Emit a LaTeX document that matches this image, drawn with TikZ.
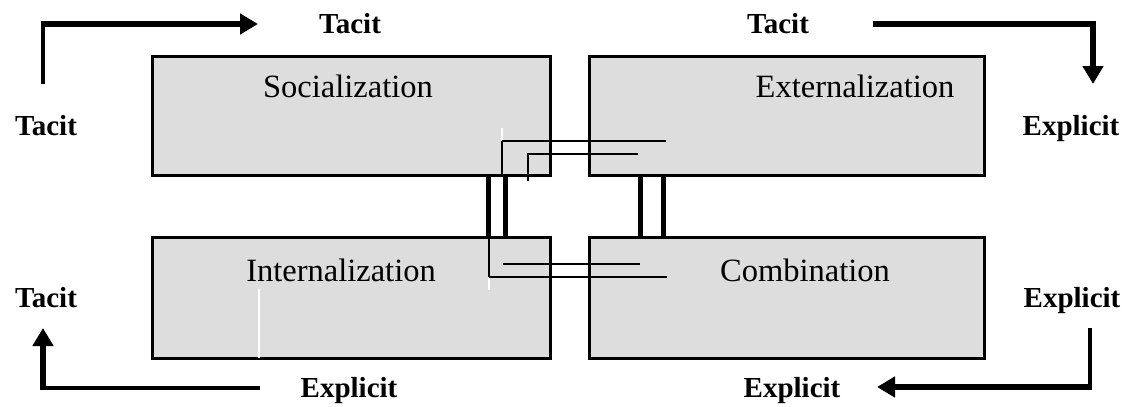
\documentclass[tikz,border=0pt]{standalone}
\usepackage{fontspec}
\setmainfont{Liberation Serif}
\usetikzlibrary{arrows.meta}
\definecolor{boxgray}{HTML}{DDDDDD}
\tikzset{
  mbox/.style={draw=black, fill=boxgray, line width=3pt, rectangle, inner sep=0pt},
  boxtext/.style={anchor=base, inner sep=0pt, font=\fontsize{32.5}{36}\selectfont},
  sidelabel/.style={anchor=base, inner sep=0pt, font=\fontsize{29}{32}\selectfont\bfseries},
  flowhead/.style={line width=5.8pt, -{Triangle[length=18pt,width=20pt]}},
  flowtail/.style={line width=3.3pt},
  link/.style={line width=2.6pt},
  pillar/.style={line width=5pt},
  flaw/.style={draw=white, line width=1.3pt}
}
\begin{document}
\begin{tikzpicture}[x=1pt,y=-1pt]
\useasboundingbox (0,0) rectangle (1130,407);
\fill[white] (0,0) rectangle (1130,407);
% boxes
\node[mbox, minimum width=398pt, minimum height=119pt] (soc) at (351.5,116) {};
\node[mbox, minimum width=395pt, minimum height=119pt] (ext) at (787,116) {};
\node[mbox, minimum width=398pt, minimum height=121pt] (int) at (351.5,298) {};
\node[mbox, minimum width=395pt, minimum height=121pt] (com) at (787,298) {};
% white flaws
\draw[flaw] (502,128) -- (502,141);
\draw[flaw] (489,277) -- (489,290);
\draw[flaw] (259,289) -- (259,358);
% box texts
\node[boxtext] (tsoc) at (348,97) {Socialization};
\node[boxtext] (text) at (855,97) {Externalization};
\node[boxtext] (tint) at (341,281) {Internalization};
\node[boxtext] (tcom) at (805,281) {Combination};
% side labels
\node[sidelabel] (ltl) at (350,33) {Tacit};
\node[sidelabel] (ltr) at (778,33) {Tacit};
\node[sidelabel] (lml) at (46,135) {Tacit};
\node[sidelabel] (lmr) at (1071,135) {Explicit};
\node[sidelabel] (lbl) at (46,307) {Tacit};
\node[sidelabel] (lbr) at (1072,307) {Explicit};
\node[sidelabel] (lbb1) at (349,397) {Explicit};
\node[sidelabel] (lbb2) at (792,397) {Explicit};
% corner coordinates for flows
\coordinate (a1) at (43,84);
\coordinate (a2) at (43,24);
\coordinate (a3) at (258,24);
\coordinate (b1) at (873,24);
\coordinate (b2) at (1093,24);
\coordinate (b3) at (1093,84);
\coordinate (c1) at (1090,328);
\coordinate (c2) at (1090,387);
\coordinate (c3) at (877,387);
\coordinate (d1) at (260,388);
\coordinate (d2) at (43,388);
\coordinate (d3) at (43,328);
% flows
\draw[flowtail] (a1) -- ([yshift=-2.9pt]a2);
\draw[flowhead] ([xshift=-1.6pt]a2) -- (a3);
\draw[flowtail, line width=5.8pt] (b1) -- ([xshift=2.9pt]b2);
\draw[flowhead] ([yshift=-2.9pt]b2) -- (b3);
\draw[flowtail] (c1) -- ([yshift=2.9pt]c2);
\draw[flowhead] ([xshift=1.6pt]c2) -- (c3);
\draw[flowtail] (d1) -- ([xshift=-2.9pt]d2);
\draw[flowhead] ([yshift=1.6pt]d2) -- (d3);
% middle connectors
\coordinate (p1) at (488,177); \coordinate (q1) at (488,236);
\coordinate (p2) at (505,177); \coordinate (q2) at (505,236);
\coordinate (p3) at (640,177); \coordinate (q3) at (640,236);
\coordinate (p4) at (663,177); \coordinate (q4) at (663,236);
\draw[pillar] (p1) -- (q1);
\draw[pillar] (p2) -- (q2);
\draw[pillar] (p3) -- (q3);
\draw[pillar] (p4) -- (q4);
\coordinate (u1) at (502,176); \coordinate (u2) at (502,141); \coordinate (u3) at (666,141);
\coordinate (v1) at (528,181); \coordinate (v2) at (528,154); \coordinate (v3) at (638,154);
\coordinate (w1) at (489,236); \coordinate (w2) at (489,277); \coordinate (w3) at (667,277);
\coordinate (z1) at (503,264); \coordinate (z2) at (640,264);
\draw[link, line width=1.8pt] (u1) -- (u2);
\draw[link] (u2) -- (u3);
\draw[link] (v1) -- (v2) -- (v3);
\draw[link, line width=1.8pt] (w1) -- (w2);
\draw[link] (w2) -- (w3);
\draw[link] (z1) -- (z2);
\end{tikzpicture}
\end{document}
